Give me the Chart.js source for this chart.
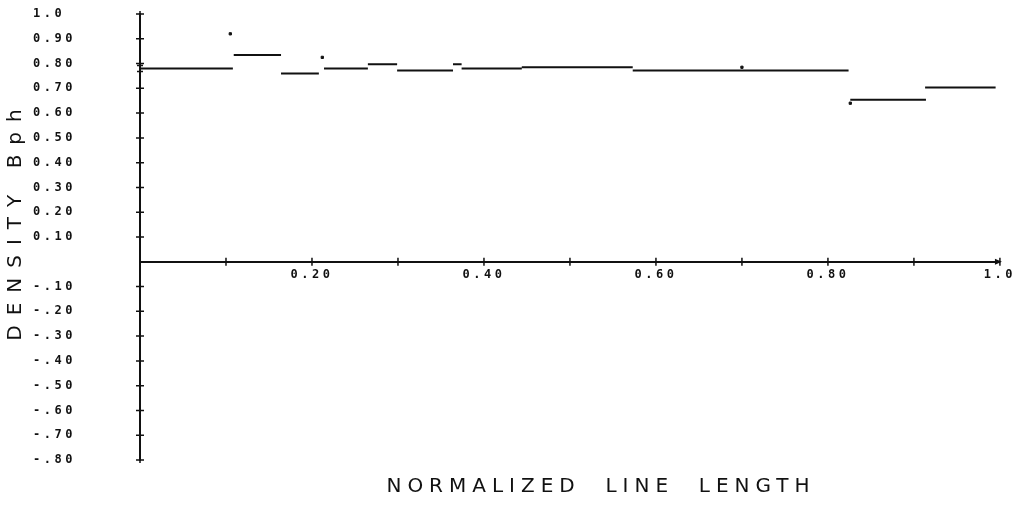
<!DOCTYPE html>
<html>
<head>
<meta charset="utf-8">
<script src="https://cdn.jsdelivr.net/npm/chart.js@4"></script>
<style>
  html, body { margin: 0; padding: 0; background: #fff; }
  #wrap { width: 1022px; height: 508px; }
</style>
</head>
<body>
<div id="wrap"><canvas id="densityChart"></canvas></div>
<script>
/* ── data ── */
const segStart = [0.000, 0.109, 0.164, 0.214, 0.265, 0.299, 0.364, 0.374, 0.444, 0.573, 0.826, 0.913];
const segEnd   = [0.108, 0.164, 0.208, 0.265, 0.299, 0.364, 0.374, 0.444, 0.573, 0.824, 0.914, 0.995];
const segValue = [0.780, 0.835, 0.760, 0.780, 0.797, 0.772, 0.797, 0.780, 0.785, 0.772, 0.654, 0.703];

const strayX = [0.105, 0.212, 0.700, 0.826, 0.995];
const strayY = [0.920, 0.825, 0.785, 0.640, -0.810];

const yTickValues = [-0.8, -0.7, -0.6, -0.5, -0.4, -0.3, -0.2, -0.1, 0, 0.1, 0.2, 0.3, 0.4, 0.5, 0.6, 0.7, 0.8, 0.9, 1.0];
const yTickLabels = ['-.80', '-.70', '-.60', '-.50', '-.40', '-.30', '-.20', '-.10', '',
                     '0.10', '0.20', '0.30', '0.40', '0.50', '0.60', '0.70', '0.80', '0.90', '1.0'];
const xTickValues = [0.1, 0.2, 0.3, 0.4, 0.5, 0.6, 0.7, 0.8, 0.9, 1.0];
const xTickLabels = ['', '0.20', '', '0.40', '', '0.60', '', '0.80', '', '1.0'];

const yTitle = 'DENSITY Bph';
const xTitle = 'NORMALIZED  LINE  LENGTH';

const INK = '#111';
const TICK_FONT = { family: '"DejaVu Sans Mono", monospace', size: 12, weight: 'bold' };

// step segments, broken between levels
const stepPoints = [];
segValue.forEach((v, i) => {
  stepPoints.push({ x: segStart[i], y: v }, { x: segEnd[i], y: v }, { x: segEnd[i], y: null });
});

/* ── plotter look: wide lettering, "+" ticks, arrow on x axis, titles ── */
const plotterLook = {
  id: 'plotterLook',
  beforeLayout(chart) { chart.ctx.letterSpacing = '3.5px'; },
  beforeDraw(chart) { chart.ctx.letterSpacing = '3.5px'; },
  afterDraw(chart) {
    const { ctx, scales: { x, y } } = chart;
    const x0 = x.getPixelForValue(0);
    const y0 = y.getPixelForValue(0);
    ctx.save();
    ctx.strokeStyle = INK;
    ctx.lineWidth = 1.5;
    ctx.beginPath();
    yTickValues.forEach(v => {
      if (v === 0) return;
      const py = y.getPixelForValue(v);
      ctx.moveTo(x0 - 4, py); ctx.lineTo(x0 + 4, py);
      ctx.moveTo(x0, py - 3); ctx.lineTo(x0, py + 3);
    });
    xTickValues.forEach(v => {
      const px = x.getPixelForValue(v);
      ctx.moveTo(px, y0 - 4); ctx.lineTo(px, y0 + 4);
    });
    // start marker on the y axis
    const ys = y.getPixelForValue(segValue[0]);
    ctx.moveTo(x0 - 3, ys - 3); ctx.lineTo(x0 + 3, ys - 3);
    ctx.moveTo(x0 - 3, ys + 3); ctx.lineTo(x0 + 3, ys + 3);
    ctx.stroke();

    // arrow head at the end of the x axis
    const xe = x.getPixelForValue(1.0);
    ctx.fillStyle = INK;
    ctx.beginPath();
    ctx.moveTo(xe + 2, y0);
    ctx.lineTo(xe - 5, y0 - 3);
    ctx.lineTo(xe - 5, y0 + 3);
    ctx.closePath();
    ctx.fill();

    // axis titles
    ctx.font = '20px "DejaVu Sans", sans-serif';
    ctx.textAlign = 'center';
    ctx.textBaseline = 'middle';
    ctx.letterSpacing = '6px';
    ctx.fillText(xTitle, 601, 487);

    ctx.translate(16, 225);
    ctx.rotate(-Math.PI / 2);
    ctx.letterSpacing = '10px';
    ctx.fillText(yTitle, 5, 0);
    ctx.restore();
  }
};

new Chart(document.getElementById('densityChart'), {
  type: 'line',
  data: {
    datasets: [
      {
        data: stepPoints,
        borderColor: INK,
        borderWidth: 2,
        pointRadius: 0,
        spanGaps: false,
        tension: 0,
      },
      {
        type: 'scatter',
        data: strayX.map((v, i) => ({ x: v, y: strayY[i] })),
        backgroundColor: INK,
        borderColor: INK,
        pointStyle: 'rect',
        pointRadius: 1.6,
      }
    ]
  },
  options: {
    responsive: true,
    maintainAspectRatio: false,
    animation: false,
    layout: { padding: { left: 33, top: 14, right: 22, bottom: 48 } },
    plugins: { legend: { display: false }, tooltip: { enabled: false } },
    scales: {
      x: {
        type: 'linear',
        position: { y: 0 },
        min: 0, max: 1.0,
        afterBuildTicks: s => { s.ticks = xTickValues.map(v => ({ value: v })); },
        grid: { display: false, drawTicks: false },
        border: { display: true, color: INK, width: 2 },
        ticks: {
          color: INK, font: TICK_FONT, padding: 6, maxRotation: 0, autoSkip: false,
          callback: (v, i) => xTickLabels[i],
        },
      },
      y: {
        position: 'left',
        min: -0.8, max: 1.0,
        afterBuildTicks: s => { s.ticks = yTickValues.map(v => ({ value: v })); },
        afterFit: s => { s.width = 107; },
        grid: { display: false },
        border: { display: true, color: INK, width: 2 },
        ticks: {
          color: INK, font: TICK_FONT, crossAlign: 'far', autoSkip: false,
          callback: (v, i) => yTickLabels[i],
        },
      }
    }
  },
  plugins: [plotterLook]
});
</script>
</body>
</html>
